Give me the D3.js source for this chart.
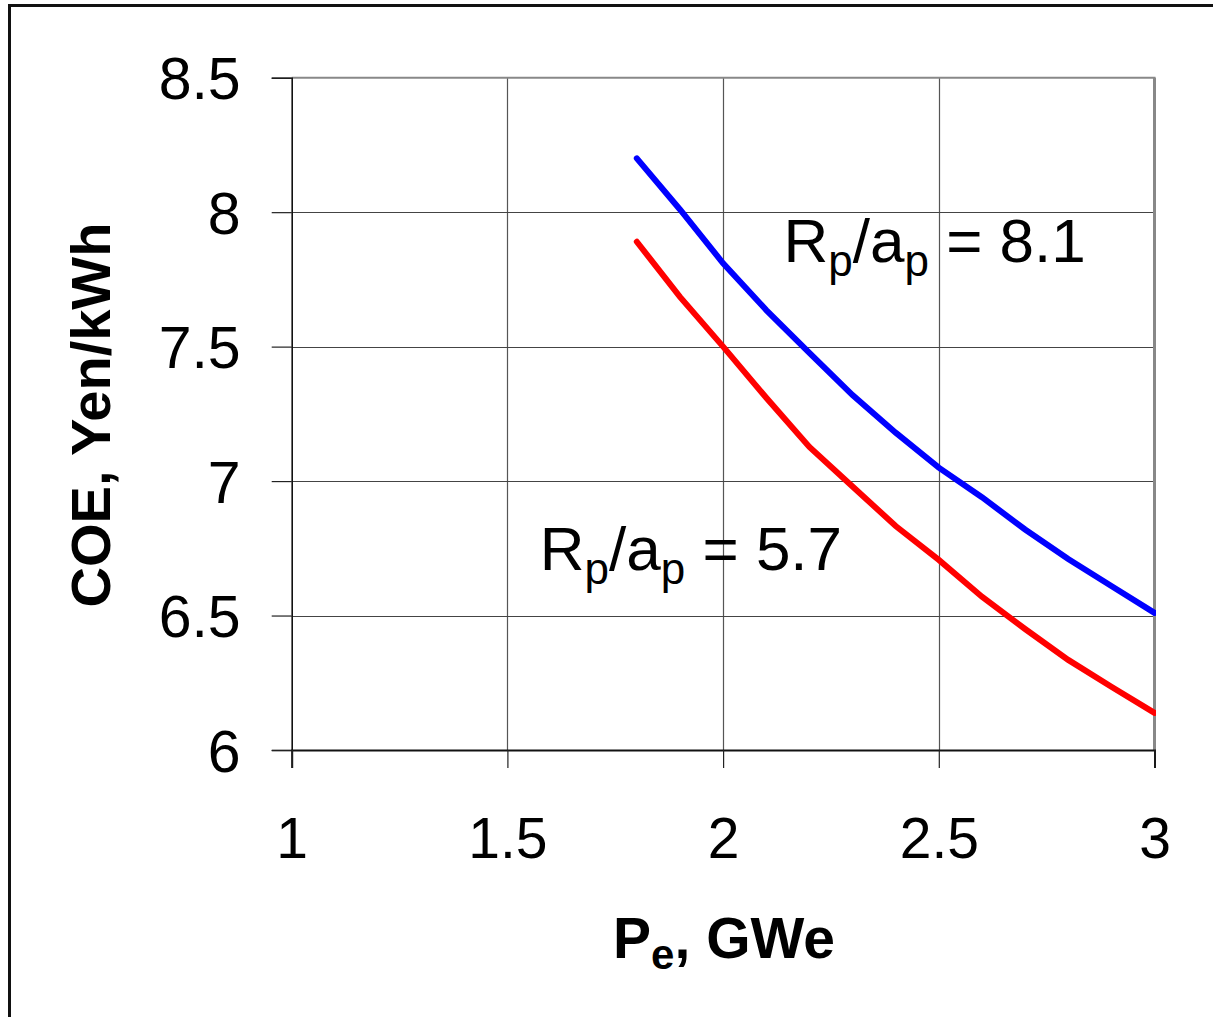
<!DOCTYPE html>
<html><head><meta charset="utf-8">
<script src="https://cdn.jsdelivr.net/npm/d3@7"></script>
<style>html,body{margin:0;padding:0;background:#fff;}svg{display:block;font-family:"Liberation Sans",Arial,sans-serif;}</style>
</head><body>
<script>
const xValues = [1.8,1.9,2.0,2.1,2.2,2.3,2.4,2.5,2.6,2.7,2.8,2.9,3.0];
const blueValues = [8.20,8.01,7.81,7.636,7.477,7.32,7.18,7.05,6.94,6.82,6.71,6.61,6.51];
const redValues  = [7.89,7.685,7.50,7.31,7.127,6.98,6.833,6.707,6.57,6.45,6.335,6.235,6.138];
const xTicks = [1,1.5,2,2.5,3];
const yTicks = [6,6.5,7,7.5,8,8.5];
const blueLabel = {x:2.14, y:7.815, main:["R","/a"," = 8.1"]};
const redLabel = {x:1.575, y:6.67, main:["R","/a"," = 5.7"]};

const W=1213,H=1017;
const svg=d3.select("body").append("svg").attr("width",W).attr("height",H);
const x=d3.scaleLinear().domain([1,3]).range([291.7,1154.5]);
const y=d3.scaleLinear().domain([6,8.5]).range([750,77.7]);

// outer frame
svg.append("rect").attr("x",9.5).attr("y",5.5).attr("width",1230).attr("height",1040)
  .attr("fill","none").attr("stroke","#111").attr("stroke-width",3);

// gridlines
svg.append("g").selectAll("line.v").data(xTicks.slice(1,-1)).join("line")
  .attr("x1",d=>Math.round(x(d))+0.5).attr("x2",d=>Math.round(x(d))+0.5)
  .attr("y1",y(8.5)).attr("y2",y(6)).attr("stroke","#555").attr("stroke-width",1.2);
svg.append("g").selectAll("line.h").data(yTicks.slice(1,-1)).join("line")
  .attr("x1",x(1)).attr("x2",x(3))
  .attr("y1",d=>Math.round(y(d))+0.5).attr("y2",d=>Math.round(y(d))+0.5)
  .attr("stroke","#444").attr("stroke-width",1.2);
svg.append("line").attr("x1",x(1)).attr("x2",x(3)+1).attr("y1",y(8.5)).attr("y2",y(8.5)).attr("stroke","#888").attr("stroke-width",2);
svg.append("line").attr("x1",x(3)).attr("x2",x(3)).attr("y1",y(8.5)).attr("y2",y(6)).attr("stroke","#888").attr("stroke-width",3);

// axes
const yAxis=d3.axisLeft(y).tickValues(yTicks).tickSize(20).tickPadding(31).tickFormat(d3.format("~g"));
const gy=svg.append("g").attr("transform",`translate(${x(1)},0)`).call(yAxis);
gy.select(".domain").attr("stroke","#111").attr("stroke-width",1.6);
gy.selectAll(".tick line").attr("stroke","#222").attr("stroke-width",1.2);
gy.selectAll(".tick text").attr("font-size",59).attr("fill","#000").attr("font-family","Liberation Sans, Arial, sans-serif").attr("dy","0.36em");

const xAxis=d3.axisBottom(x).tickValues(xTicks).tickSize(18).tickPadding(50).tickFormat(d3.format("~g"));
const gx=svg.append("g").attr("transform",`translate(0,${y(6)})`).call(xAxis);
gx.select(".domain").attr("stroke","#111").attr("stroke-width",2);
gx.selectAll(".tick line").attr("stroke","#222").attr("stroke-width",1.2);
gx.selectAll(".tick text").attr("font-size",57).attr("fill","#000").attr("font-family","Liberation Sans, Arial, sans-serif").attr("dy","0.71em");

// curves
const line=d3.line().x(d=>x(d[0])).y(d=>y(d[1]));
svg.append("path").datum(xValues.map((v,i)=>[v,redValues[i]])).attr("d",line)
  .attr("fill","none").attr("stroke","#ff0000").attr("stroke-width",6).attr("stroke-linecap","round");
svg.append("path").datum(xValues.map((v,i)=>[v,blueValues[i]])).attr("d",line)
  .attr("fill","none").attr("stroke","#0000ff").attr("stroke-width",6).attr("stroke-linecap","round");

svg.append("rect").attr("x",x(3)+1.5).attr("y",y(8.5)+2).attr("width",20).attr("height",y(6)-y(8.5)).attr("fill","#fff");

function annot(lbl){
  const t=svg.append("text").attr("x",x(lbl.x)).attr("y",y(lbl.y)).attr("font-size",62).attr("fill","#000");
  t.append("tspan").text(lbl.main[0]);
  t.append("tspan").attr("font-size",44).attr("dy",14).text("p");
  t.append("tspan").attr("dy",-14).text(lbl.main[1]);
  t.append("tspan").attr("font-size",44).attr("dy",14).text("p");
  t.append("tspan").attr("dy",-14).text(lbl.main[2]);
}
annot(blueLabel);
annot(redLabel);

// axis titles
svg.append("text").attr("transform","translate(110,415) rotate(-90)").attr("text-anchor","middle")
  .attr("font-size",56).attr("font-weight","bold").attr("fill","#000").text("COE, Yen/kWh");
const xt=svg.append("text").attr("x",724).attr("y",958).attr("text-anchor","middle")
  .attr("font-size",57).attr("font-weight","bold").attr("fill","#000");
xt.append("tspan").text("P");
xt.append("tspan").attr("font-size",42).attr("dy",11).text("e");
xt.append("tspan").attr("dy",-11).text(", GWe");
</script>
</body></html>
